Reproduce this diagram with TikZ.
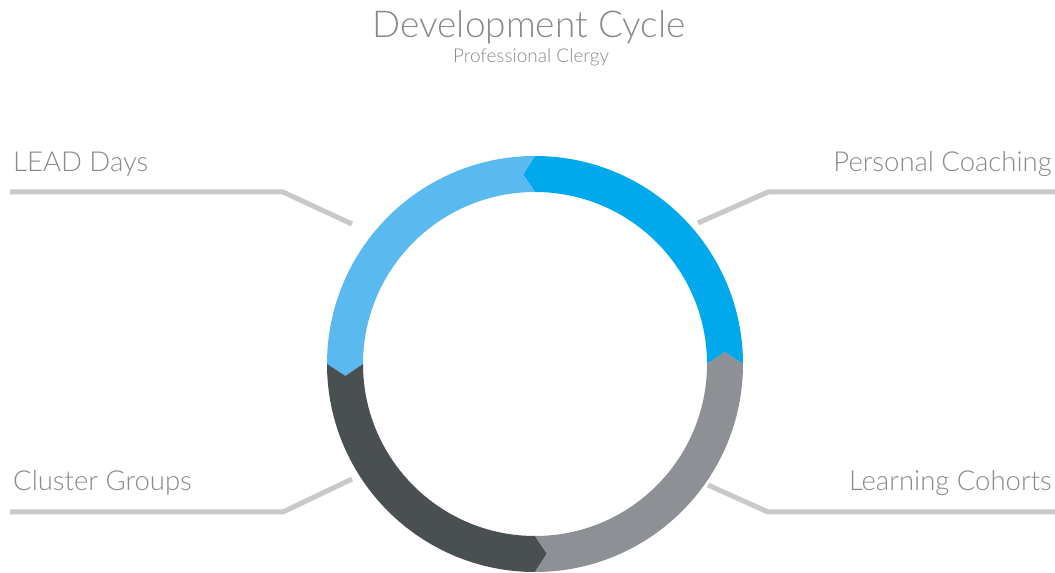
\documentclass[tikz,border=0pt]{standalone}
\usepackage{fontspec}
\newfontfamily\lt{Lato Light}
\definecolor{cBright}{RGB}{0,168,236}
\definecolor{cLight}{RGB}{90,185,238}
\definecolor{cDark}{RGB}{74,79,81}
\definecolor{cMid}{RGB}{141,145,150}
\definecolor{cLine}{RGB}{200,201,203}
\definecolor{cText}{RGB}{135,139,144}
\tikzset{
  leader/.style={draw=cLine, line width=5pt},
  lbl/.style={text=cText, font=\lt\fontsize{27.5}{32}\selectfont, inner sep=0pt},
}
\newcommand{\seg}[2]{%
  \fill[#2] (#1:208) arc[start angle=#1, end angle=#1+90, radius=208]
    -- (#1+93.6:190) -- (#1+90:172)
    arc[start angle=#1+90, end angle=#1, radius=172]
    -- (#1+3.6:190) -- cycle;}
\begin{document}
\begin{tikzpicture}[x=1pt,y=1pt]
\useasboundingbox (0,0) rectangle (1055,573);
\fill[white] (0,0) rectangle (1055,573);
% ring
\begin{scope}[shift={(535,209)}, x=1pt, y=1pt]
\seg{0}{cBright}
\seg{90}{cLight}
\seg{180}{cDark}
\seg{270}{cMid}
\end{scope}
% titles
\node[text=cText, font=\lt\fontsize{37}{42}\selectfont, inner sep=0pt, anchor=base] (title) at (529,535) {Development Cycle};
\node[text=cText, font=\lt\fontsize{19}{22}\selectfont, inner sep=0pt, anchor=base] (sub) at (531,510) {Professional Clergy};
% labels
\node[lbl, anchor=base west] (lead) at (13,401) {LEAD Days};
\node[lbl, anchor=base east] (coach) at (1052,401) {Personal Coaching};
\node[lbl, anchor=base west] (cluster) at (13,82) {Cluster Groups};
\node[lbl, anchor=base east] (cohort) at (1052,82) {Learning Cohorts};
% leader coordinates
\coordinate (l1) at (10,381); \coordinate (l2) at (283,381); \coordinate (l3) at (352,349);
\coordinate (p1) at (698,350); \coordinate (p2) at (768,381); \coordinate (p3) at (1055,381);
\coordinate (c1) at (10,61); \coordinate (c2) at (283,61); \coordinate (c3) at (352,94);
\coordinate (h1) at (708,88); \coordinate (h2) at (768,61); \coordinate (h3) at (1055,61);
\draw[leader] (l1) -- (l2) -- (l3);
\draw[leader] (p1) -- (p2) -- (p3);
\draw[leader] (c1) -- (c2) -- (c3);
\draw[leader] (h1) -- (h2) -- (h3);
\end{tikzpicture}
\end{document}
